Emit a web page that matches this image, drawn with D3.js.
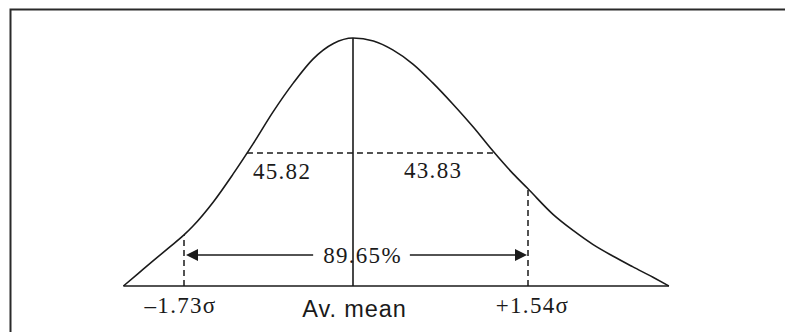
<!DOCTYPE html>
<html lang="en">
	<head>
		<meta charset="utf-8">
		<title>Normal curve: -1.73 sigma to +1.54 sigma</title>
		<script src="https://cdn.jsdelivr.net/npm/d3@7"></script>
		<style type="text/css">
		body { margin: 0; background: #fff; }
		.serif { font-family: "Liberation Serif", "Times New Roman", serif; font-size: 23px; letter-spacing: 1.3px; fill: #1a1a1a; }
		.sans { font-family: "Liberation Sans", Arial, sans-serif; font-size: 23.5px; letter-spacing: 0.9px; fill: #1a1a1a; }
		</style>
	</head>
	<body>
		<script type="text/javascript">

			//Curve: position in sigma units, relative height (peak = 1)
			var curveZ = [ -2.35, -2.20, -2.05, -1.89, -1.73, -1.64, -1.43, -1.23, -1.02, -0.82, -0.61, -0.41, -0.20, 0,
			               0.18, 0.35, 0.53, 0.70, 0.88, 1.06, 1.23, 1.41, 1.54, 1.76, 1.94, 2.11, 2.29, 2.46, 2.64, 2.78 ];
			var curveH = [ 0, 0.05, 0.10, 0.153, 0.206, 0.241, 0.339, 0.450, 0.575, 0.701, 0.819, 0.915, 0.978, 1,
			               0.988, 0.952, 0.894, 0.820, 0.733, 0.640, 0.545, 0.452, 0.392, 0.289, 0.223, 0.168, 0.12, 0.078, 0.035, 0 ];

			//Marks on the base line
			var markZ = [ -1.73, 0, 1.54 ];
			var markLabels = [ "\u20131.73\u03c3", "Av. mean", "+1.54\u03c3" ];

			//Areas either side of the mean, and the total between the marks
			var halfLevel = 0.536;
			var halfLabels = [ "45.82", "43.83" ];
			var arrowLevel = 0.125;
			var coverLabel = "89.65%";

			//Width and height
			var w = 785;
			var h = 332;
			var baseY = 286;
			var peakY = 38;

			var points = curveZ.map(function(z, i) { return [z, curveH[i]]; });

			//sigma is drawn a little wider on the right than on the left
			var xScale = d3.scaleLinear()
							.domain(markZ)
							.range([184, 353, 528]);

			var yScale = d3.scaleLinear()
							.domain([0, 1])
							.range([baseY, peakY]);

			//height of the curve at z, straight between the read points
			function heightAt(z) {
				for (var i = 1; i < points.length; i++) {
					if (z <= points[i][0]) {
						var a = points[i - 1], b = points[i];
						return a[1] + (b[1] - a[1]) * (z - a[0]) / (b[0] - a[0]);
					}
				}
				return 0;
			}
			//where the curve crosses level v, on one side of the mean
			function crossAt(v, side) {
				var pts = side < 0 ? points.filter(function(p) { return p[0] <= 0; })
				                   : points.filter(function(p) { return p[0] >= 0; });
				for (var i = 1; i < pts.length; i++) {
					var a = pts[i - 1], b = pts[i];
					if ((a[1] - v) * (b[1] - v) <= 0) {
						return a[0] + (b[0] - a[0]) * (v - a[1]) / (b[1] - a[1]);
					}
				}
				return 0;
			}

			//Create SVG element
			var svg = d3.select("body")
						.append("svg")
						.attr("width", w)
						.attr("height", h);

			//frame
			svg.append("path")
				.attr("d", "M10.5," + h + "V9.5H" + w)
				.attr("fill", "none")
				.attr("stroke", "#2a2a2a")
				.attr("stroke-width", 2);

			//base line
			svg.append("line")
				.attr("x1", xScale(d3.min(curveZ)))
				.attr("x2", xScale(d3.max(curveZ)))
				.attr("y1", yScale(0))
				.attr("y2", yScale(0))
				.attr("stroke", "#1a1a1a")
				.attr("stroke-width", 1.6);

			//curve
			var line = d3.line()
						.x(function(d) { return xScale(d[0]); })
						.y(function(d) { return yScale(d[1]); })
						.curve(d3.curveMonotoneX);

			svg.append("path")
				.datum(points)
				.attr("d", line)
				.attr("fill", "none")
				.attr("stroke", "#1a1a1a")
				.attr("stroke-width", 1.6);

			//mean line
			svg.append("line")
				.attr("x1", xScale(0))
				.attr("x2", xScale(0))
				.attr("y1", yScale(0))
				.attr("y2", yScale(heightAt(0)))
				.attr("stroke", "#1a1a1a")
				.attr("stroke-width", 1.6);

			//dashed verticals at the two marks
			svg.selectAll("line.mark")
				.data([markZ[0], markZ[2]])
				.enter()
				.append("line")
				.attr("class", "mark")
				.attr("x1", function(d) { return xScale(d); })
				.attr("x2", function(d) { return xScale(d); })
				.attr("y1", yScale(0))
				.attr("y2", function(d) { return yScale(heightAt(d)); })
				.attr("stroke", "#1a1a1a")
				.attr("stroke-width", 1.5)
				.attr("stroke-dasharray", "6,4");

			//dashed horizontal across the curve
			var zl = crossAt(halfLevel, -1);
			var zr = crossAt(halfLevel, 1);
			svg.append("line")
				.attr("x1", xScale(zl))
				.attr("x2", xScale(zr))
				.attr("y1", yScale(halfLevel))
				.attr("y2", yScale(halfLevel))
				.attr("stroke", "#1a1a1a")
				.attr("stroke-width", 1.5)
				.attr("stroke-dasharray", "6,4");

			//area labels under the dashed line
			svg.append("text")
				.attr("class", "serif")
				.attr("x", xScale(zl) + 6)
				.attr("y", yScale(halfLevel) + 26)
				.text(halfLabels[0]);
			svg.append("text")
				.attr("class", "serif")
				.attr("x", xScale(0) + 51)
				.attr("y", yScale(halfLevel) + 25)
				.text(halfLabels[1]);

			//labels on the base line
			var xAxis = d3.axisBottom()
							.scale(xScale)
							.tickValues(markZ)
							.tickSize(0)
							.tickFormat(function(d, i) { return markLabels[i]; });

			var axis = svg.append("g")
				.attr("transform", "translate(0," + yScale(0) + ")")
				.call(xAxis);
			axis.select(".domain").remove();
			axis.selectAll("text")
				.attr("class", function(d) { return d === 0 ? "sans" : "serif"; })
				.attr("font-family", null)
				.attr("font-size", null)
				.attr("fill", null)
				.attr("dy", null)
				.attr("dx", function(d) { return d < 0 ? -4 : (d > 0 ? 4 : 1); })
				.attr("y", function(d) { return d === 0 ? 31 : 27; });
			axis.attr("font-family", null).attr("font-size", null);

			//double arrow with the total in the middle
			var ay = yScale(arrowLevel);
			var ax1 = xScale(markZ[0]) + 2;
			var ax2 = xScale(markZ[2]) - 1;

			var label = svg.append("text")
				.attr("class", "serif")
				.attr("text-anchor", "middle")
				.attr("x", (ax1 + ax2) / 2 + 6)
				.attr("y", ay + 8)
				.text(coverLabel);
			var box = label.node().getBBox();

			svg.append("line")
				.attr("x1", ax1 + 10)
				.attr("x2", box.x - 10)
				.attr("y1", ay)
				.attr("y2", ay)
				.attr("stroke", "#1a1a1a")
				.attr("stroke-width", 1.6);
			svg.append("line")
				.attr("x1", box.x + box.width + 8)
				.attr("x2", ax2 - 10)
				.attr("y1", ay)
				.attr("y2", ay)
				.attr("stroke", "#1a1a1a")
				.attr("stroke-width", 1.6);

			svg.append("path")
				.attr("d", "M" + ax1 + "," + ay + "L" + (ax1 + 12) + "," + (ay - 6) + "L" + (ax1 + 12) + "," + (ay + 6) + "Z")
				.attr("fill", "#1a1a1a");
			svg.append("path")
				.attr("d", "M" + ax2 + "," + ay + "L" + (ax2 - 12) + "," + (ay - 6) + "L" + (ax2 - 12) + "," + (ay + 6) + "Z")
				.attr("fill", "#1a1a1a");

		</script>
	</body>
</html>
